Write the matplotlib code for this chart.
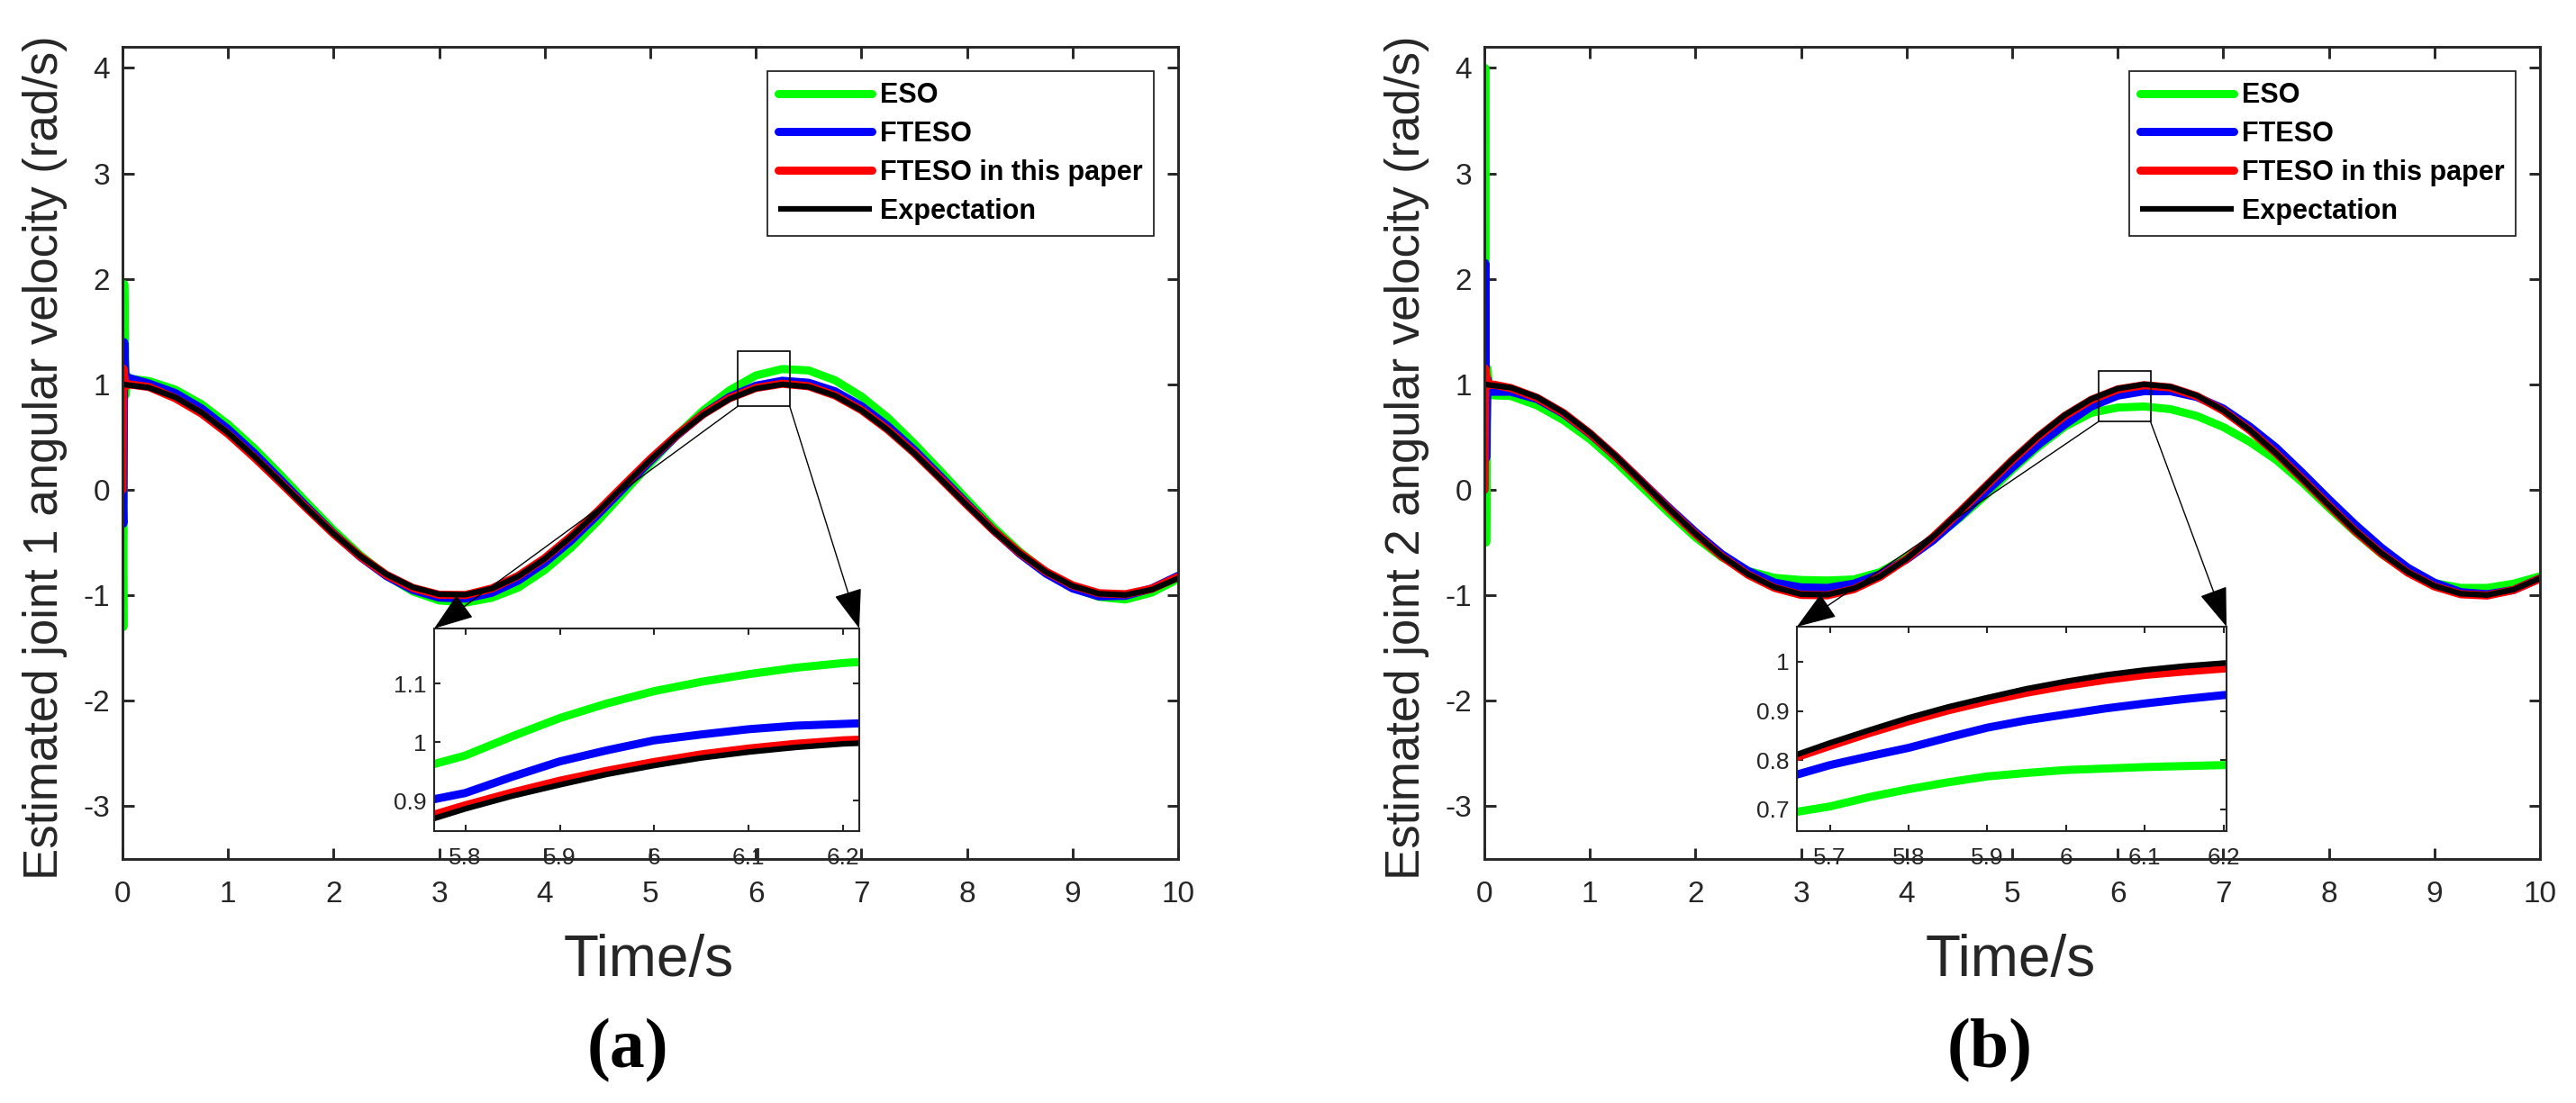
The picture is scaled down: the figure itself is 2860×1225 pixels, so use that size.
import matplotlib
matplotlib.use("Agg")
import matplotlib.pyplot as plt
from matplotlib.patches import Rectangle

plt.rcParams['font.family'] = ['Liberation Sans', 'DejaVu Sans']
plt.rcParams['axes.unicode_minus'] = False

# ---------------- data ----------------
# main time grid, s
t_grid = [0.0, 0.25, 0.5, 0.75, 1.0, 1.25, 1.5, 1.75, 2.0, 2.25, 2.5, 2.75, 3.0,
          3.25, 3.5, 3.75, 4.0, 4.25, 4.5, 4.75, 5.0, 5.25, 5.5, 5.75, 6.0,
          6.25, 6.5, 6.75, 7.0, 7.25, 7.5, 7.75, 8.0, 8.25, 8.5, 8.75, 9.0,
          9.25, 9.5, 9.75, 10.0]
# start-up transient (first 0.1 s) of the observers
t_head = [0.0, 0.008, 0.016, 0.03, 0.045, 0.06, 0.1]

# expectation (same reference in both joints)
expect_vel = [1.000, 0.969, 0.878, 0.732, 0.540, 0.315, 0.071, -0.178, -0.416,
              -0.628, -0.801, -0.924, -0.990, -0.994, -0.936, -0.820, -0.654,
              -0.446, -0.211, 0.037, 0.284, 0.512, 0.709, 0.861, 0.960, 1.000,
              0.977, 0.893, 0.754, 0.568, 0.347, 0.103, -0.146, -0.388, -0.602,
              -0.780, -0.911, -0.985, -0.997, -0.946, -0.839]

# joint 1
eso1_head = [0.0, -1.30, 1.95, 0.90, 1.08, 1.06, 1.05]
eso1 = [1.031, 0.950, 0.810, 0.620, 0.392, 0.138, -0.126, -0.383, -0.617, -0.813,
        -0.963, -1.049, -1.069, -1.023, -0.926, -0.760, -0.548, -0.297, -0.024,
        0.251, 0.516, 0.751, 0.943, 1.084, 1.145, 1.132, 1.039, 0.885, 0.683,
        0.438, 0.175, -0.094, -0.354, -0.587, -0.782, -0.927, -1.015, -1.040,
        -0.974, -0.845]
fteso1_head = [0.0, -0.32, 1.40, 1.00, 1.07, 1.06, 1.05]
fteso1 = [1.008, 0.918, 0.771, 0.576, 0.346, 0.093, -0.164, -0.412, -0.634,
          -0.817, -0.949, -1.022, -1.031, -0.976, -0.860, -0.691, -0.481, -0.238,
          0.018, 0.274, 0.512, 0.719, 0.881, 0.987, 1.034, 1.015, 0.934, 0.794,
          0.605, 0.379, 0.127, -0.130, -0.382, -0.607, -0.795, -0.935, -1.010,
          -1.005, -0.935, -0.815]
paper1_head = [0.0, 1.15, 1.08, 0.98, 1.00, 1.00, 0.995]
paper1 = [0.975, 0.868, 0.722, 0.530, 0.305, 0.065, -0.180, -0.418, -0.630,
          -0.806, -0.930, -0.995, -0.997, -0.935, -0.815, -0.648, -0.440, -0.205,
          0.045, 0.292, 0.518, 0.716, 0.868, 0.966, 1.006, 0.982, 0.895, 0.756,
          0.570, 0.350, 0.106, -0.143, -0.384, -0.598, -0.776, -0.906, -0.980,
          -0.990, -0.938, -0.826]

# joint 2
eso2_head = [0.0, 4.00, -0.50, 1.15, 0.95, 0.90, 0.895]
eso2 = [0.890, 0.800, 0.660, 0.480, 0.260, 0.020, -0.220, -0.450, -0.640, -0.770,
        -0.835, -0.855, -0.860, -0.850, -0.780, -0.640, -0.470, -0.270, -0.050,
        0.190, 0.410, 0.600, 0.730, 0.780, 0.790, 0.765, 0.700, 0.595, 0.455,
        0.285, 0.070, -0.170, -0.400, -0.610, -0.775, -0.885, -0.930, -0.930,
        -0.890, -0.820]
fteso2_head = [0.0, 2.15, 0.30, 1.05, 0.95, 0.93, 0.93]
fteso2 = [0.930, 0.860, 0.720, 0.530, 0.310, 0.070, -0.170, -0.400, -0.610,
          -0.770, -0.880, -0.925, -0.930, -0.890, -0.800, -0.660, -0.480, -0.260,
          -0.020, 0.210, 0.430, 0.620, 0.790, 0.893, 0.935, 0.935, 0.880, 0.770,
          0.600, 0.400, 0.160, -0.090, -0.330, -0.550, -0.740, -0.880, -0.970,
          -0.990, -0.950, -0.840]
paper2_head = [0.0, 1.15, 1.10, 1.00, 0.99, 1.00, 0.995]
paper2 = [0.965, 0.872, 0.728, 0.535, 0.312, 0.068, -0.182, -0.420, -0.632,
          -0.806, -0.930, -0.996, -1.000, -0.942, -0.824, -0.656, -0.448, -0.212,
          0.034, 0.280, 0.506, 0.702, 0.853, 0.952, 0.992, 0.970, 0.888, 0.750,
          0.566, 0.346, 0.102, -0.148, -0.392, -0.606, -0.786, -0.916, -0.990,
          -1.002, -0.950, -0.842]

# zoomed windows
tz1 = [5.75, 5.8, 5.85, 5.9, 5.95, 6.0, 6.05, 6.1, 6.15, 6.2, 6.25]
z1_eso = [0.955, 0.977, 1.010, 1.041, 1.066, 1.087, 1.103, 1.116, 1.127, 1.135, 1.140]
z1_fteso = [0.897, 0.913, 0.941, 0.967, 0.986, 1.003, 1.013, 1.022, 1.028, 1.031, 1.034]
z1_paper = [0.868, 0.892, 0.914, 0.934, 0.951, 0.966, 0.979, 0.989, 0.997, 1.003, 1.006]
z1_expect = [0.861, 0.886, 0.908, 0.927, 0.945, 0.960, 0.973, 0.983, 0.991, 0.997, 1.000]

tz2 = [5.65, 5.7, 5.75, 5.8, 5.85, 5.9, 5.95, 6.0, 6.05, 6.1, 6.15, 6.2, 6.25]
z2_eso = [0.693, 0.706, 0.725, 0.741, 0.755, 0.767, 0.774, 0.780, 0.783, 0.786, 0.788, 0.790, 0.791]
z2_fteso = [0.767, 0.790, 0.808, 0.825, 0.846, 0.866, 0.881, 0.893, 0.905, 0.915, 0.924, 0.932, 0.937]
z2_paper = [0.802, 0.829, 0.855, 0.879, 0.901, 0.920, 0.937, 0.951, 0.963, 0.973, 0.980, 0.986, 0.989]
z2_expect = [0.807, 0.835, 0.861, 0.886, 0.908, 0.927, 0.945, 0.960, 0.973, 0.983, 0.991, 0.997, 1.000]

labels = ['ESO', 'FTESO', 'FTESO in this paper', 'Expectation']
colors = ['#00ff00', '#0000ff', '#ff0000', '#000000']
AXC = '#262626'

# ---------------- layout helpers (pixels of the 2860x1225 canvas) ----------------
W, H = 2860, 1225
fig = plt.figure(figsize=(W / 100, H / 100), dpi=100)


def fx(px):
    return px / W


def fy(py):
    return 1 - py / H


def style(ax, size, length, lw, padx, pady):
    for s in ax.spines.values():
        s.set_linewidth(lw)
        s.set_color(AXC)
    ax.tick_params(direction='in', top=True, right=True, length=length, width=lw,
                   colors=AXC, labelsize=size)
    ax.tick_params(axis='x', pad=padx)
    ax.tick_params(axis='y', pad=pady)


def panel(off, heads, bodies, zt, zdata, zxticks, zyticks, zxlim, zylim,
          zbox, rect, ylab, tag):
    ax = fig.add_axes([fx(136 + off), fy(954), fx(1172), 902 / H])
    ax.set_zorder(1)
    ax.patch.set_visible(False)

    handles = []
    for i in range(3):
        ln, = ax.plot(t_head + t_grid[1:], heads[i] + bodies[i], color=colors[i],
                      lw=6.5, solid_capstyle='round', solid_joinstyle='round')
        handles.append(ln)
    ln, = ax.plot(t_grid, expect_vel, color='k', lw=4.5, solid_capstyle='butt',
                  solid_joinstyle='round')
    handles.append(ln)

    ax.set_xlim(0, 10)
    ax.set_ylim(-3.5, 4.2)
    ax.set_xticks(range(0, 11))
    ax.set_yticks(range(-3, 5))
    style(ax, 24, 9, 2.1, 17, 10)

    leg = ax.legend(handles, labels, loc='upper right',
                    bbox_to_anchor=(fx(1281 + off), fy(79)), bbox_transform=fig.transFigure,
                    prop={'size': 22, 'weight': 'bold'}, handlelength=3.4,
                    handletextpad=0.3, labelspacing=0.42, borderpad=0.4,
                    borderaxespad=0, fancybox=False, framealpha=1, edgecolor=AXC)
    leg.get_frame().set_linewidth(1.3)

    # magnified window, drawn underneath the main axes so the x axis crosses its labels
    bl, bt, bw = zbox
    axin = fig.add_axes([fx(bl), fy(923), fx(bw), (923 - bt) / H])
    axin.set_zorder(0)
    axin.set_facecolor('white')
    for i in range(4):
        axin.plot(zt, zdata[i], color=colors[i], lw=6.5 if i < 3 else 4.5,
                  solid_capstyle='butt')
    axin.set_xlim(*zxlim)
    axin.set_ylim(*zylim)
    axin.set_xticks(zxticks, [('%g' % v) for v in zxticks])
    axin.set_yticks(zyticks, [('%g' % v) for v in zyticks])
    style(axin, 19, 5, 1.5, 13, 6)

    rx0, rx1, ry0, ry1 = rect
    ax.add_patch(Rectangle((rx0, ry0), rx1 - rx0, ry1 - ry0, fill=False, ec='k', lw=1.2, zorder=5))
    arrow = dict(arrowstyle='-|>,head_length=1.4,head_width=0.5', color='k', lw=1.0,
                 shrinkA=0, shrinkB=0, mutation_scale=20)
    ax.annotate('', xy=(0, 1), xycoords=axin.transAxes, xytext=(rx0, ry0),
                textcoords='data', arrowprops=arrow, annotation_clip=False)
    ax.annotate('', xy=(1, 1), xycoords=axin.transAxes, xytext=(rx1, ry0),
                textcoords='data', arrowprops=arrow, annotation_clip=False)

    fig.text(fx(50 + off), fy(508), ylab, rotation=90, ha='center', va='center',
             fontsize=38, color=AXC)
    fig.text(fx(720 + off), fy(1084), 'Time/s', ha='center', va='baseline',
             fontsize=46, color=AXC)
    fig.text(fx(697 + off), fy(1185), tag, ha='center', va='baseline',
             fontsize=56, weight='bold', family=['Liberation Serif', 'DejaVu Serif'], color='k')


panel(0, [eso1_head, fteso1_head, paper1_head], [eso1, fteso1, paper1],
      tz1, [z1_eso, z1_fteso, z1_paper, z1_expect],
      [5.8, 5.9, 6.0, 6.1, 6.2], [0.9, 1.0, 1.1], (5.767, 6.217), (0.848, 1.194),
      (482, 698, 472), (5.83, 6.32, 0.793, 1.313),
      'Estimated joint 1 angular velocity (rad/s)', '(a)')

panel(1512, [eso2_head, fteso2_head, paper2_head], [eso2, fteso2, paper2],
      tz2, [z2_eso, z2_fteso, z2_paper, z2_expect],
      [5.7, 5.8, 5.9, 6.0, 6.1, 6.2], [0.7, 0.8, 0.9, 1.0], (5.658, 6.204), (0.656, 1.071),
      (1995, 696, 477), (5.82, 6.31, 0.648, 1.125),
      'Estimated joint 2 angular velocity (rad/s)', '(b)')

fig.savefig('out.png', dpi=100)
